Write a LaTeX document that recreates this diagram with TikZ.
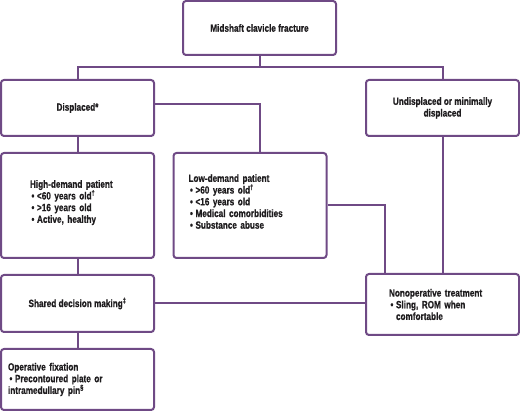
\documentclass[tikz,border=0pt]{standalone}
\usepackage{fontspec}
\setmainfont{Liberation Sans}[FakeStretch=0.78, BoldFont={Liberation Sans Bold}, BoldFeatures={FakeStretch=0.78, FakeBold=0.8}]
\definecolor{boxc}{RGB}{111,74,133}
\definecolor{txt}{RGB}{30,28,30}
\newcommand\mybul{\hspace*{1.5pt}\makebox[5.5pt][l]{\textbullet}}
\newcommand\lift{\rule[-8pt]{0pt}{8pt}}
\begin{document}
\begin{tikzpicture}[x=1pt,y=-1pt,
  box/.style={draw=boxc, line width=2pt, rounded corners=3pt, minimum width=153pt,
    inner sep=0pt, font=\fontsize{10.5}{11.7}\selectfont\bfseries, text=txt, align=center},
  lbox/.style={box, align=left},
  conn/.style={draw=boxc, line width=2pt}]
\useasboundingbox (0,0) rectangle (520,411);
\node[box, minimum height=54pt] (top) at (259.5,28) {Midshaft clavicle fracture};
\node[box, minimum height=56pt] (disp) at (77.5,108) {Displaced*};
\node[box, minimum height=56pt] (undisp) at (442.5,108) {Undisplaced or minimally\\displaced};
\node[lbox, minimum height=105pt, text width=95pt, inner xsep=29pt] (high) at (77.5,205.5)
  {High-demand patient\\\mybul<60 years old\textsuperscript{†}\\\mybul>16 years old\\\mybul Active, healthy\lift};
\node[lbox, minimum height=105pt, text width=123pt, inner xsep=15pt] (low) at (250,205.5)
  {Low-demand patient\\\mybul>60 years old\textsuperscript{†}\\\mybul<16 years old\\\mybul Medical comorbidities\\\mybul Substance abuse\lift};
\node[box, minimum height=57pt] (shared) at (77.5,303.5) {Shared decision making\textsuperscript{‡}};
\node[lbox, minimum height=61pt, text width=107pt, inner xsep=23pt] (nonop) at (442.5,304.5)
  {Nonoperative treatment\\\mybul Sling, ROM when\\\hspace*{7pt}comfortable};
\node[lbox, minimum height=61pt, text width=139pt, inner xsep=7pt] (oper) at (77.5,379.5)
  {Operative fixation\\\mybul Precontoured plate or\\intramedullary pin\textsuperscript{§}};
\draw[conn] (top.south) -- ++(0,11) coordinate (j);
\draw[conn] (disp.north) |- (j) -| (undisp.north);
\draw[conn] ([yshift=4pt]disp.east) -| ([xshift=10pt]low.north);
\draw[conn] (disp.south) -- (high.north);
\draw[conn] (low.east) -| ([xshift=-57.5pt]nonop.north);
\draw[conn] (undisp.south) -- (nonop.north);
\draw[conn] (high.south) -- (shared.north);
\draw[conn] (shared.east) -- (shared.east -| nonop.west);
\draw[conn] (shared.south) -- (oper.north);
\end{tikzpicture}
\end{document}
